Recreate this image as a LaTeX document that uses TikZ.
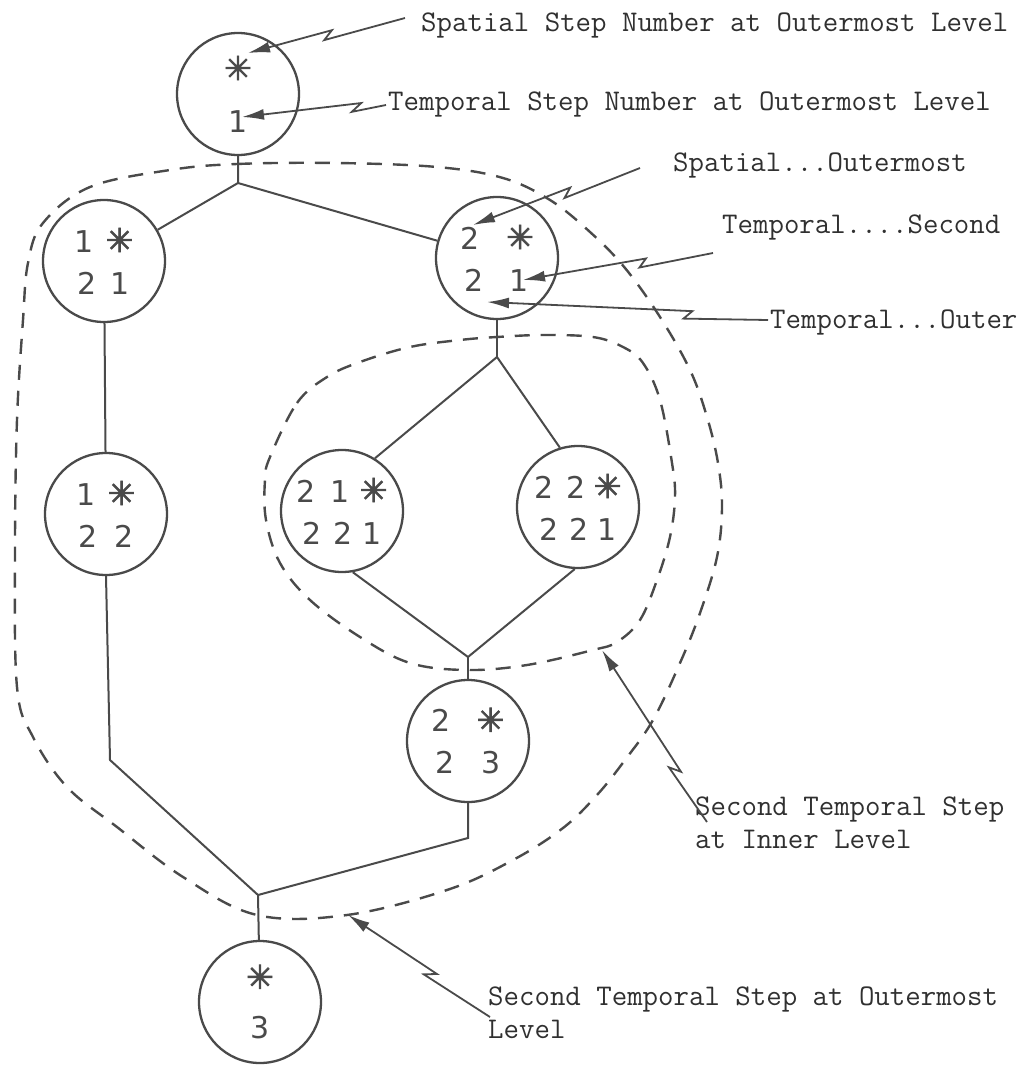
\documentclass[tikz,border=0pt]{standalone}
\usepackage{fontspec}
\newfontfamily\handfont{DejaVu Sans}
\newfontfamily\starfont{DejaVu Sans}[FakeBold=2.5]
\usetikzlibrary{calc,arrows.meta}
\definecolor{ink}{HTML}{4A4A4A}
\definecolor{txt}{HTML}{303030}
\newcommand\starsym{{\starfont\fontsize{33}{42}\selectfont ✳}}
\newcommand\gapp[1]{\hspace*{#1pt}}
\begin{document}
\begin{tikzpicture}[x=1pt,y=-1pt,
  stepnode/.style={circle,draw=ink,line width=2.3pt,minimum size=122pt,inner sep=0pt,
    font=\handfont\fontsize{30}{42}\selectfont,text=ink,align=center},
  link/.style={draw=ink,line width=2pt},
  loopline/.style={draw=ink,line width=2.4pt,dash pattern=on 15pt off 11pt},
  lbl/.style={font=\ttfamily\fontsize{30}{33}\selectfont,text=txt,inner sep=0pt,anchor=base west,align=left},
  pointer/.style={draw=ink,line width=1.8pt,-{Latex[length=22pt,width=11pt]}},
  bolt/.style 2 args={to path={-- ($(\tikztostart)!#1!(\tikztotarget)!4pt!90:(\tikztotarget)$)
      -- ($(\tikztostart)!#2!(\tikztotarget)!4pt!-90:(\tikztotarget)$) -- (\tikztotarget)}},
]
\useasboundingbox (0,0) rectangle (1029,1079);

% step nodes
\node[stepnode] (T) at (238,94) {\starsym\\[10pt]1};
\node[stepnode] (A) at (104,261) {1\gapp{12}\starsym\\2\gapp{14}1};
\node[stepnode] (B) at (497,258) {2\gapp{27}\starsym\\2\gapp{26}1};
\node[stepnode] (C) at (342,511) {2\gapp{15}1\gapp{10}\starsym\\2\gapp{12}2\gapp{9}1};
\node[stepnode] (D) at (578,507) {2\gapp{13}2\gapp{8}\starsym\\2\gapp{11}2\gapp{9}1};
\node[stepnode] (E) at (468,741) {2\gapp{26}\starsym\\2\gapp{27}3};
\node[stepnode] (F) at (106,514) {1\gapp{12}\starsym\\2\gapp{17}2};
\node[stepnode] (G) at (260,1002) {\starsym\\[8pt]3};

% junctions
\coordinate (j1) at (238,183);
\coordinate (j2) at (497,357);
\coordinate (j3) at (468,657);
\coordinate (j4) at (258,895);
\coordinate (f1) at (110,760);
\coordinate (e1) at (468,838);

\draw[link] (T) -- (j1) -- (A);
\draw[link] (j1) -- (B);
\draw[link] (B) -- (j2);
\draw[link] (j2) -- (C.58);
\draw[link] (j2) -- (D.107);
\draw[link] (C.-80) -- (j3) -- (D.-93);
\draw[link] (j3) -- (E);
\draw[link] (A) -- (F);
\draw[link] (F.south) -- (f1) -- (j4);
\draw[link] (E.south) -- (e1) -- (j4);
\draw[link] (j4) -- (G);

% dashed loops
\draw[loopline] plot[smooth cycle, tension=0.6] coordinates {
 (170,170) (237,164) (337,163) (437,167) (503,178) (550,200) (590,232) (625,268)
 (660,317) (690,370) (707,417) (718,463) (722,507) (717,557) (700,613) (680,663)
 (653,720) (625,760) (597,795) (563,828) (513,860) (447,890) (347,915) (257,915)
 (183,877) (117,827) (67,787) (33,737) (17,687) (15,550) (17,420) (23,320)
 (28,263) (43,223) (90,187)};
\draw[loopline] plot[smooth cycle, tension=0.6] coordinates {
 (270,457) (297,403) (327,377) (360,362) (410,347) (460,340) (497,337) (543,335)
 (593,337) (623,347) (643,363) (660,400) (672,463) (675,497) (670,537) (657,580)
 (640,620) (617,642) (593,650) (527,665) (467,670) (410,663) (360,637) (310,600)
 (280,563) (266,520) (265,480)};

% labels
\node[lbl] (L1) at (421,31) {Spatial Step Number at Outermost Level};
\node[lbl] (L2) at (388,110) {Temporal Step Number at Outermost Level};
\node[lbl] (L3) at (673,171) {Spatial...Outermost};
\node[lbl] (L4) at (722,233) {Temporal....Second};
\node[lbl] (L5) at (770,328) {Temporal...Outer};
\node[lbl] (L6) at (695,848) {Second Temporal Step\\at Inner Level};
\node[lbl] (L7) at (488,1038) {Second Temporal Step at Outermost\\Level};

% pointer arrows
\coordinate (s1) at (405,18);  \coordinate (t1) at (248,53);
\coordinate (s2) at (386,105); \coordinate (t2) at (242,117);
\coordinate (s3) at (640,168); \coordinate (t3) at (473,225);
\coordinate (s4) at (713,253); \coordinate (t4) at (523,280);
\coordinate (s5) at (768,320); \coordinate (t5) at (487,302);
\coordinate (s6) at (707,822); \coordinate (t6) at (602,650);
\coordinate (s7) at (490,1017); \coordinate (t7) at (348,915);
\draw[pointer] (s1) to[bolt={0.52}{0.46}] (t1);
\draw[pointer] (s2) to[bolt={0.24}{0.17}] (t2);
\draw[pointer] (s3) to[bolt={0.46}{0.41}] (t3);
\draw[pointer] (s4) to[bolt={0.39}{0.35}] (t4);
\draw[pointer] (s5) to[bolt={0.3}{0.27}] (t5);
\draw[pointer] (s6) to[bolt={0.33}{0.28}] (t6);
\draw[pointer] (s7) to[bolt={0.45}{0.39}] (t7);
\end{tikzpicture}
\end{document}
